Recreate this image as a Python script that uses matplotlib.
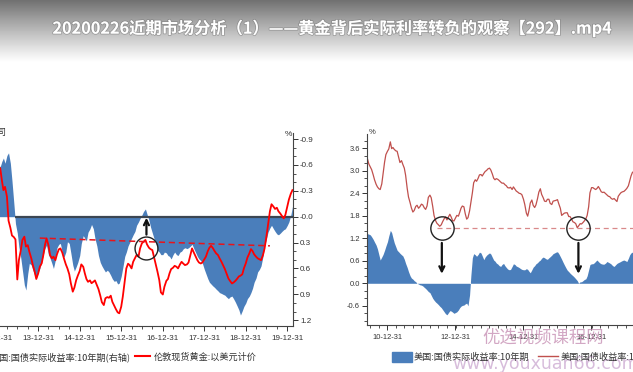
import numpy as np
import pandas as pd
import matplotlib
matplotlib.use('Agg')
import matplotlib.pyplot as plt
import matplotlib.dates as mdates
from matplotlib.patches import Patch
from matplotlib.lines import Line2D
from matplotlib.ticker import MultipleLocator
import matplotlib.patheffects as pe

plt.rcParams['font.family'] = ['Liberation Sans', 'DejaVu Sans']
plt.rcParams['axes.unicode_minus'] = False
CJK = ['Noto Sans CJK SC', 'DejaVu Sans']

TITLE = '20200226近期市场分析（1）——黄金背后实际利率转负的观察【292】.mp4'

# left chart: semi-monthly, London gold (USD) vs US 10y real yield (right axis, inverted)
left_start = '2012-07-01'
gold_usd = [
    1600, 1590, 1610, 1620, 1650, 1690, 1770, 1780, 1750, 1720, 1710, 1700, 1660, 1690,
    1683, 1633, 1590, 1604, 1562, 1460, 1430, 1397, 1390, 1380,
    1210, 1292, 1335, 1378, 1392, 1350, 1356, 1328, 1300, 1271,
    1243, 1212, 1236, 1264, 1279, 1314, 1356, 1385, 1356, 1314,
    1300, 1307, 1292, 1317, 1338, 1342, 1324, 1300, 1274, 1257,
    1232, 1194, 1158, 1175, 1207, 1226, 1246, 1274, 1264, 1236,
    1212, 1200, 1206, 1194, 1200, 1206, 1186, 1169, 1141, 1113,
    1101, 1130, 1135, 1132, 1141, 1115, 1098, 1084, 1070, 1066,
    1094, 1137, 1204, 1257, 1277, 1271, 1257, 1285, 1300, 1314,
    1307, 1342, 1364, 1370, 1378, 1359, 1345, 1339, 1335, 1307,
    1271, 1243, 1207, 1155, 1146, 1179, 1204, 1212, 1236, 1254,
    1260, 1268, 1264, 1257, 1274, 1285, 1277, 1271, 1274, 1282,
    1314, 1342, 1324, 1310, 1292, 1282, 1278, 1282, 1296, 1307,
    1331, 1345, 1353, 1345, 1331, 1321, 1314, 1300, 1285, 1271,
    1254, 1236, 1214, 1204, 1193, 1197, 1204, 1212, 1223, 1226,
    1232, 1257, 1279, 1303, 1321, 1339, 1331, 1317, 1307, 1300,
    1296, 1292, 1314, 1342, 1392, 1440, 1500, 1530, 1520, 1510,
    1515, 1500, 1490, 1480, 1470, 1485, 1520, 1550, 1575, 1590,
]
real_yield_left = [
    -0.62, -0.65, -0.70, -0.72, -0.78, -0.82, -0.75, -0.80, -0.76, -0.78, -0.72, -0.68, -0.62, -0.60,
    -0.58, -0.64, -0.68, -0.62, -0.71, -0.74, -0.62, -0.42, -0.15, 0.08,
    0.19, 0.35, 0.48, 0.62, 0.79, 0.85, 0.66, 0.54, 0.56, 0.62,
    0.68, 0.72, 0.64, 0.60, 0.52, 0.44, 0.37, 0.33, 0.44, 0.48,
    0.54, 0.60, 0.50, 0.36, 0.32, 0.31, 0.42, 0.47, 0.41, 0.29,
    0.31, 0.42, 0.56, 0.63, 0.58, 0.53, 0.45, 0.31, 0.22, 0.25,
    0.28, 0.18, 0.14, 0.09, 0.14, 0.25, 0.34, 0.45, 0.53, 0.57,
    0.61, 0.64, 0.62, 0.64, 0.68, 0.72, 0.75, 0.74, 0.78, 0.77,
    0.69, 0.59, 0.46, 0.41, 0.34, 0.30, 0.25, 0.21, 0.17, 0.10,
    0.06, 0.02, -0.02, -0.06, -0.09, -0.03, 0.04, 0.12, 0.19, 0.25,
    0.31, 0.39, 0.41, 0.44, 0.44, 0.41, 0.42, 0.45, 0.46, 0.49,
    0.44, 0.41, 0.44, 0.45, 0.41, 0.40, 0.37, 0.36, 0.37, 0.36,
    0.34, 0.32, 0.37, 0.41, 0.46, 0.49, 0.51, 0.54, 0.61, 0.66,
    0.72, 0.76, 0.78, 0.80, 0.82, 0.84, 0.86, 0.88, 0.89, 0.90,
    0.91, 0.93, 0.95, 0.93, 0.92, 0.95, 0.99, 1.03, 1.08, 1.14,
    1.09, 1.04, 1.00, 0.95, 0.92, 0.88, 0.83, 0.76, 0.71, 0.64,
    0.61, 0.57, 0.46, 0.34, 0.26, 0.18, 0.13, 0.10, 0.14, 0.17,
    0.20, 0.21, 0.19, 0.17, 0.15, 0.14, 0.10, 0.06, -0.02, -0.12,
]

# right chart: semi-monthly, US 10y nominal vs US 10y real yield
right_start = '2010-05-15'
nominal_10y = [
    3.42, 3.31, 3.18, 3.10, 3.03, 2.89, 2.76, 2.64, 2.57, 2.52,
    2.50, 2.65, 2.93, 3.23, 3.43, 3.52, 3.58, 3.77, 3.59, 3.62,
    3.57, 3.53, 3.52, 3.36, 3.22, 3.27, 3.17, 3.07, 2.88, 2.53,
    2.30, 2.15, 2.01, 1.90, 1.94, 2.05, 2.08, 2.00, 2.04, 2.11,
    2.09, 2.01, 1.97, 2.06, 2.29, 2.35, 2.28, 2.05, 1.81, 1.67,
    1.60, 1.56, 1.52, 1.56, 1.64, 1.72, 1.77, 1.69, 1.76, 1.84,
    1.77, 1.67, 1.66, 1.74, 1.81, 1.79, 1.89, 2.00, 2.06, 2.04,
    1.86, 1.71, 1.75, 1.93, 2.16, 2.41, 2.68, 2.76, 2.72, 2.80,
    2.89, 2.90, 2.86, 2.93, 2.98, 3.01, 3.05, 3.07, 3.02, 2.91,
    2.80, 2.76, 2.79, 2.77, 2.74, 2.70, 2.67, 2.67, 2.63, 2.60,
    2.55, 2.54, 2.56, 2.50, 2.57, 2.51, 2.46, 2.43, 2.40, 2.39,
    2.36, 2.24, 2.10, 1.87, 1.79, 1.94, 2.14, 2.22, 2.08, 2.02,
    2.09, 2.26, 2.43, 2.52, 2.37, 2.28, 2.19, 2.18, 2.24, 2.24,
    2.13, 2.10, 2.19, 2.20, 2.21, 2.23, 2.12, 2.00, 1.81, 1.84,
    1.87, 1.88, 1.88, 1.78, 1.78, 1.71, 1.64, 1.62, 1.59, 1.48,
    1.53, 1.59, 1.58, 1.62, 1.66, 1.72, 1.81, 2.04, 2.41, 2.55,
    2.55, 2.52, 2.50, 2.53, 2.58, 2.51, 2.44, 2.42, 2.43, 2.39,
    2.36, 2.32, 2.31, 2.26, 2.24, 2.26, 2.22, 2.18, 2.32, 2.38,
    2.42, 2.44, 2.45, 2.49, 2.53, 2.60, 2.73, 2.86, 2.95, 2.99,
    3.02, 3.02,
]
real_10y = [
    1.33, 1.32, 1.31, 1.29, 1.24, 1.17, 1.10, 1.02, 0.92, 0.76,
    0.62, 0.70, 0.77, 0.88, 0.99, 1.11, 1.26, 1.41, 1.35, 1.21,
    1.08, 0.97, 0.88, 0.84, 0.80, 0.76, 0.73, 0.64, 0.53, 0.42,
    0.31, 0.20, 0.14, 0.11, 0.07, 0.04, 0.00, -0.02, -0.04, -0.05,
    -0.07, -0.11, -0.14, -0.18, -0.22, -0.25, -0.32, -0.40, -0.45, -0.50,
    -0.53, -0.57, -0.61, -0.65, -0.70, -0.76, -0.81, -0.84, -0.79, -0.73,
    -0.74, -0.77, -0.80, -0.78, -0.76, -0.71, -0.65, -0.61, -0.59, -0.58,
    -0.55, -0.53, -0.60, -0.31, 0.21, 0.68, 0.79, 0.76, 0.72, 0.77,
    0.83, 0.81, 0.73, 0.63, 0.70, 0.75, 0.78, 0.81, 0.78, 0.69,
    0.62, 0.59, 0.54, 0.51, 0.47, 0.45, 0.50, 0.53, 0.47, 0.42,
    0.38, 0.36, 0.37, 0.45, 0.52, 0.50, 0.46, 0.44, 0.42, 0.39,
    0.37, 0.36, 0.36, 0.39, 0.37, 0.32, 0.28, 0.36, 0.43, 0.47,
    0.52, 0.55, 0.59, 0.62, 0.67, 0.70, 0.68, 0.65, 0.64, 0.68,
    0.71, 0.75, 0.79, 0.81, 0.83, 0.84, 0.79, 0.71, 0.64, 0.56,
    0.49, 0.41, 0.35, 0.31, 0.27, 0.23, 0.20, 0.16, 0.12, 0.07,
    0.00, 0.04, 0.04, 0.07, 0.10, 0.12, 0.20, 0.36, 0.50, 0.52,
    0.52, 0.55, 0.59, 0.62, 0.58, 0.54, 0.52, 0.51, 0.51, 0.54,
    0.58, 0.56, 0.54, 0.51, 0.47, 0.45, 0.49, 0.53, 0.55, 0.57,
    0.59, 0.61, 0.62, 0.60, 0.58, 0.67, 0.76, 0.81, 0.83, 0.84,
    0.84, 0.81,
]

left_labels = ['美国:国债实际收益率:10年期(右轴)', '伦敦现货黄金:以美元计价']
right_labels = ['美国:国债实际收益率:10年期', '美国:国债收益率:10年']

BLUE = '#4a7ebb'
W, H = 633, 372


def fx(px):
    return px / W


def fy(py):
    return 1 - py / H


left_dates = pd.date_range(left_start, periods=len(gold_usd), freq='SMS')
right_dates = pd.date_range(right_start, periods=len(nominal_10y), freq='SMS')

fig = plt.figure(figsize=(W / 100, H / 100), dpi=100)
fig.patch.set_facecolor('white')

# video title banner
ax_bg = fig.add_axes([0, fy(62), 1, 62 / H])
grad = np.linspace(0.36, 1.0, 64) ** 0.8
ax_bg.imshow(grad[:, None], cmap='gray', vmin=0, vmax=1, aspect='auto', extent=[0, 1, 0, 1])
ax_bg.axis('off')
fig.text(fx(332), fy(28), TITLE, color='white', fontsize=11.7, fontweight='bold',
         ha='center', va='center', family=CJK,
         path_effects=[pe.withStroke(linewidth=1.2, foreground=(0.45, 0.45, 0.45, 0.5))])


def style_axis(ax, labelsize):
    ax.tick_params(which='both', direction='out', colors='#333333', labelsize=labelsize)
    ax.tick_params(which='major', length=3.5, width=0.7)
    ax.tick_params(which='minor', length=2, width=0.6)


# ---- left chart ----
ax_y = fig.add_axes([fx(-25), fy(326), 318 / W, 193 / H])
ax_y.fill_between(left_dates, 0, real_yield_left, color=BLUE, lw=0)
ax_y.hlines(0, pd.Timestamp('2013-06-08'), pd.Timestamp('2020-02-20'), color='#3b4652', lw=1.6, zorder=3)

ax_g = ax_y.twinx()
ax_g.plot(left_dates, gold_usd, color='#ff0000', lw=1.3)
ax_g.set_ylim(1012, 1833)
ax_g.yaxis.set_visible(False)
for s in ax_g.spines.values():
    s.set_visible(False)

ax_y.set_ylim(1.267, -0.970)
ax_y.set_xlim(pd.Timestamp('2012-06-24'), pd.Timestamp('2020-02-20'))
ax_y.yaxis.tick_right()
ax_y.yaxis.set_label_position('right')
ax_y.set_yticks(np.round(np.arange(-0.9, 1.21, 0.3), 1))
ax_y.yaxis.set_major_formatter(plt.FormatStrFormatter('%.1f'))
ax_y.yaxis.set_minor_locator(MultipleLocator(0.1))
ax_y.xaxis.set_major_locator(mdates.YearLocator(1, month=12, day=31))
ax_y.xaxis.set_minor_locator(mdates.MonthLocator(bymonth=[4, 7, 10]))
ax_y.xaxis.set_major_formatter(mdates.DateFormatter('%y-%m-%d'))
style_axis(ax_y, 5.8)
ax_y.tick_params(axis='y', pad=1.5, left=False, labelleft=False, right=True, labelright=True)
ax_y.tick_params(axis='x', pad=3)
for s in ['top', 'left']:
    ax_y.spines[s].set_visible(False)
for s in ['right', 'bottom']:
    ax_y.spines[s].set_color('#444444')
    ax_y.spines[s].set_linewidth(0.8)

ax_g.plot([pd.Timestamp('2014-01-15'), pd.Timestamp('2019-08-01')], [1386, 1353],
          color='#e8141a', lw=1.1, ls=(0, (4, 2.5)))
ax_g.plot([pd.Timestamp('2016-08-10')], [1345], marker='o', ms=16.5, mfc='none', mec='#222222', mew=1.0)
arrow_x = mdates.date2num(pd.Timestamp('2016-08-10'))
ax_g.annotate('', xy=(arrow_x, -0.02), xycoords=ax_y.transData,
              xytext=(arrow_x, 0.24), textcoords=ax_y.transData,
              arrowprops=dict(arrowstyle='->', lw=1.6, color='#111111', mutation_scale=9))

fig.text(fx(288), fy(134), '%', fontsize=6, color='#333333', ha='center', va='center')
fig.text(fx(7), fy(133), '盎司', fontsize=6.5, color='#333333', ha='right', va='center', family=CJK)

fig.legend(handles=[Patch(color=BLUE), Line2D([], [], color='#ff0000', lw=1.5)], labels=left_labels,
           ncol=2, loc='center left', bbox_to_anchor=(fx(-27.6), fy(357)), frameon=False,
           prop={'family': CJK, 'size': 6.6}, handlelength=1.6, handleheight=1.0,
           handletextpad=0.4, columnspacing=0.5, borderpad=0, borderaxespad=0, labelcolor='#333333')

# ---- right chart ----
ax_r = fig.add_axes([fx(366.7), fy(325), (700 - 366.7) / W, 191 / H])
ax_r.fill_between(right_dates, 0, real_10y, color=BLUE, lw=0)
ax_r.plot(right_dates, nominal_10y, color='#c0504d', lw=0.9)
ax_r.set_ylim(-1.112, 3.98)
ax_r.set_xlim(pd.Timestamp('2010-05-23'), pd.Timestamp('2020-03-11'))
ax_r.set_yticks(np.round(np.arange(-0.6, 3.61, 0.6), 1))
ax_r.yaxis.set_major_formatter(plt.FormatStrFormatter('%.1f'))
ax_r.yaxis.set_minor_locator(MultipleLocator(0.2))
ax_r.xaxis.set_major_locator(mdates.YearLocator(2, month=12, day=31))
ax_r.xaxis.set_minor_locator(mdates.MonthLocator(bymonth=[1, 4, 7, 10]))
ax_r.xaxis.set_major_formatter(mdates.DateFormatter('%y-%m-%d'))
style_axis(ax_r, 5.4)
ax_r.tick_params(axis='y', pad=1.5)
ax_r.tick_params(axis='x', pad=3)
for s in ['top', 'right']:
    ax_r.spines[s].set_visible(False)
for s in ['left', 'bottom']:
    ax_r.spines[s].set_color('#444444')
    ax_r.spines[s].set_linewidth(0.8)

ax_r.plot([pd.Timestamp('2012-06-15'), pd.Timestamp('2020-03-01')], [1.47, 1.47],
          color='#d9898a', lw=0.9, ls=(0, (4, 3)))
circle_days = [pd.Timestamp('2012-08-07'), pd.Timestamp('2016-08-13')]
ax_r.plot(circle_days, [1.47, 1.47], ls='none', marker='o', ms=16.8,
          mfc='none', mec='#222222', mew=1.0)
for d in circle_days:
    ax_r.annotate('', xy=(d, 0.18), xytext=(d, 1.15),
                  arrowprops=dict(arrowstyle='->', lw=1.6, color='#111111', mutation_scale=9))

fig.text(fx(371.7), fy(133), '%', fontsize=5.5, color='#333333', ha='center', va='center')

fig.legend(handles=[Patch(color=BLUE), Line2D([], [], color='#c0504d', lw=1.0)], labels=right_labels,
           ncol=2, loc='center left', bbox_to_anchor=(fx(391.7), fy(357)), frameon=False,
           prop={'family': CJK, 'size': 6.6}, handlelength=2.18, handleheight=1.2,
           handletextpad=0.25, columnspacing=0.95, borderpad=0, borderaxespad=0, labelcolor='#333333')

# site watermark
fig.text(fx(482), fy(338), '优选视频课程网', fontsize=12.5, color='#c48ab0', alpha=0.75,
         va='center', family=CJK)
fig.text(fx(452), fy(364), 'www.youxuan66.com', fontsize=12.5, color='#c6a0cc', alpha=0.7,
         va='center', family=['DejaVu Sans'])

fig.savefig('out.png', dpi=100)
